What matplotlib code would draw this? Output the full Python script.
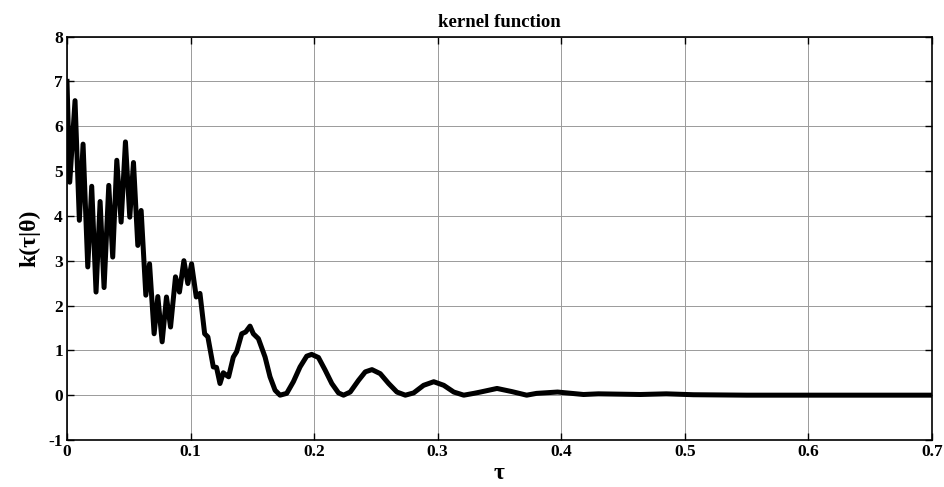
import matplotlib.pyplot as plt

# Kurvenpunkte
tau = [0.0, 0.0022, 0.0065, 0.010, 0.013, 0.0168, 0.020, 0.0235, 0.0268, 0.030,
       0.0338, 0.037, 0.0403, 0.0438, 0.0473, 0.0508, 0.0538, 0.0573, 0.060, 0.0638,
       0.0668, 0.0705, 0.0735, 0.077, 0.0805, 0.0838, 0.0878, 0.091, 0.0946, 0.0978,
       0.1008, 0.1046, 0.1076, 0.1114, 0.114, 0.1184, 0.121, 0.1238, 0.1265, 0.1292,
       0.1308, 0.1346, 0.1373, 0.1414, 0.1446, 0.1481, 0.1508, 0.1549, 0.1603, 0.1643,
       0.1684, 0.1724, 0.1778, 0.1832, 0.1886, 0.194, 0.198, 0.2035, 0.2089, 0.2143,
       0.2197, 0.2238, 0.2292, 0.2359, 0.2414, 0.2468, 0.2535, 0.2603, 0.267, 0.2738,
       0.2805, 0.2886, 0.2968, 0.3049, 0.313, 0.3211, 0.3292, 0.3346, 0.348, 0.36,
       0.372, 0.38, 0.397, 0.418, 0.43, 0.464, 0.485, 0.507, 0.55, 0.6, 0.65, 0.7]
k = [7.0, 4.75, 6.57, 3.9, 5.6, 2.86, 4.66, 2.3, 4.32, 2.4,
     4.68, 3.08, 5.24, 3.86, 5.65, 3.97, 5.19, 3.34, 4.12, 2.23,
     2.93, 1.37, 2.2, 1.19, 2.19, 1.52, 2.64, 2.3, 3.0, 2.49,
     2.93, 2.19, 2.27, 1.37, 1.3, 0.63, 0.62, 0.26, 0.5, 0.44,
     0.41, 0.85, 0.97, 1.37, 1.41, 1.54, 1.37, 1.26, 0.85, 0.41,
     0.11, 0.0, 0.04, 0.3, 0.63, 0.87, 0.91, 0.84, 0.56, 0.26,
     0.05, 0.0, 0.07, 0.33, 0.52, 0.57, 0.48, 0.26, 0.07, 0.0,
     0.05, 0.22, 0.30, 0.22, 0.07, 0.0, 0.04, 0.07, 0.15, 0.08,
     0.0, 0.04, 0.07, 0.015, 0.03, 0.015, 0.03, 0.01, 0.0, 0.0, 0.0, 0.0]

xticks = [0, 0.1, 0.2, 0.3, 0.4, 0.5, 0.6, 0.7]
xticklabels = ["0", "0.1", "0.2", "0.3", "0.4", "0.5", "0.6", "0.7"]
yticks = [-1, 0, 1, 2, 3, 4, 5, 6, 7, 8]

plt.rcParams["font.family"] = ["Liberation Serif", "DejaVu Serif"]
plt.rcParams["font.weight"] = "bold"
plt.rcParams["axes.unicode_minus"] = False

fig = plt.figure(figsize=(9.45, 4.87), dpi=100)
ax = fig.add_axes([0.0709, 0.0965, 0.9153, 0.8285])

ax.plot(tau, k, color="black", linewidth=3.6, solid_joinstyle="round")

ax.set_xlim(0, 0.7)
ax.set_ylim(-1, 8)
ax.set_xticks(xticks)
ax.set_xticklabels(xticklabels)
ax.set_yticks(yticks)

ax.grid(True, color="#9a9a9a", linewidth=0.7)
ax.tick_params(direction="in", top=True, right=True, labelsize=12.5, length=5, width=1, pad=3)
for s in ax.spines.values():
    s.set_linewidth(1.2)

ax.set_title("kernel function", fontsize=13.5, fontweight="bold", pad=7)
ax.set_xlabel("τ", fontsize=17, fontweight="bold", labelpad=2)
ax.set_ylabel("k(τ|θ)", fontsize=17, fontweight="bold", labelpad=6)

fig.savefig("out.png", dpi=100)
